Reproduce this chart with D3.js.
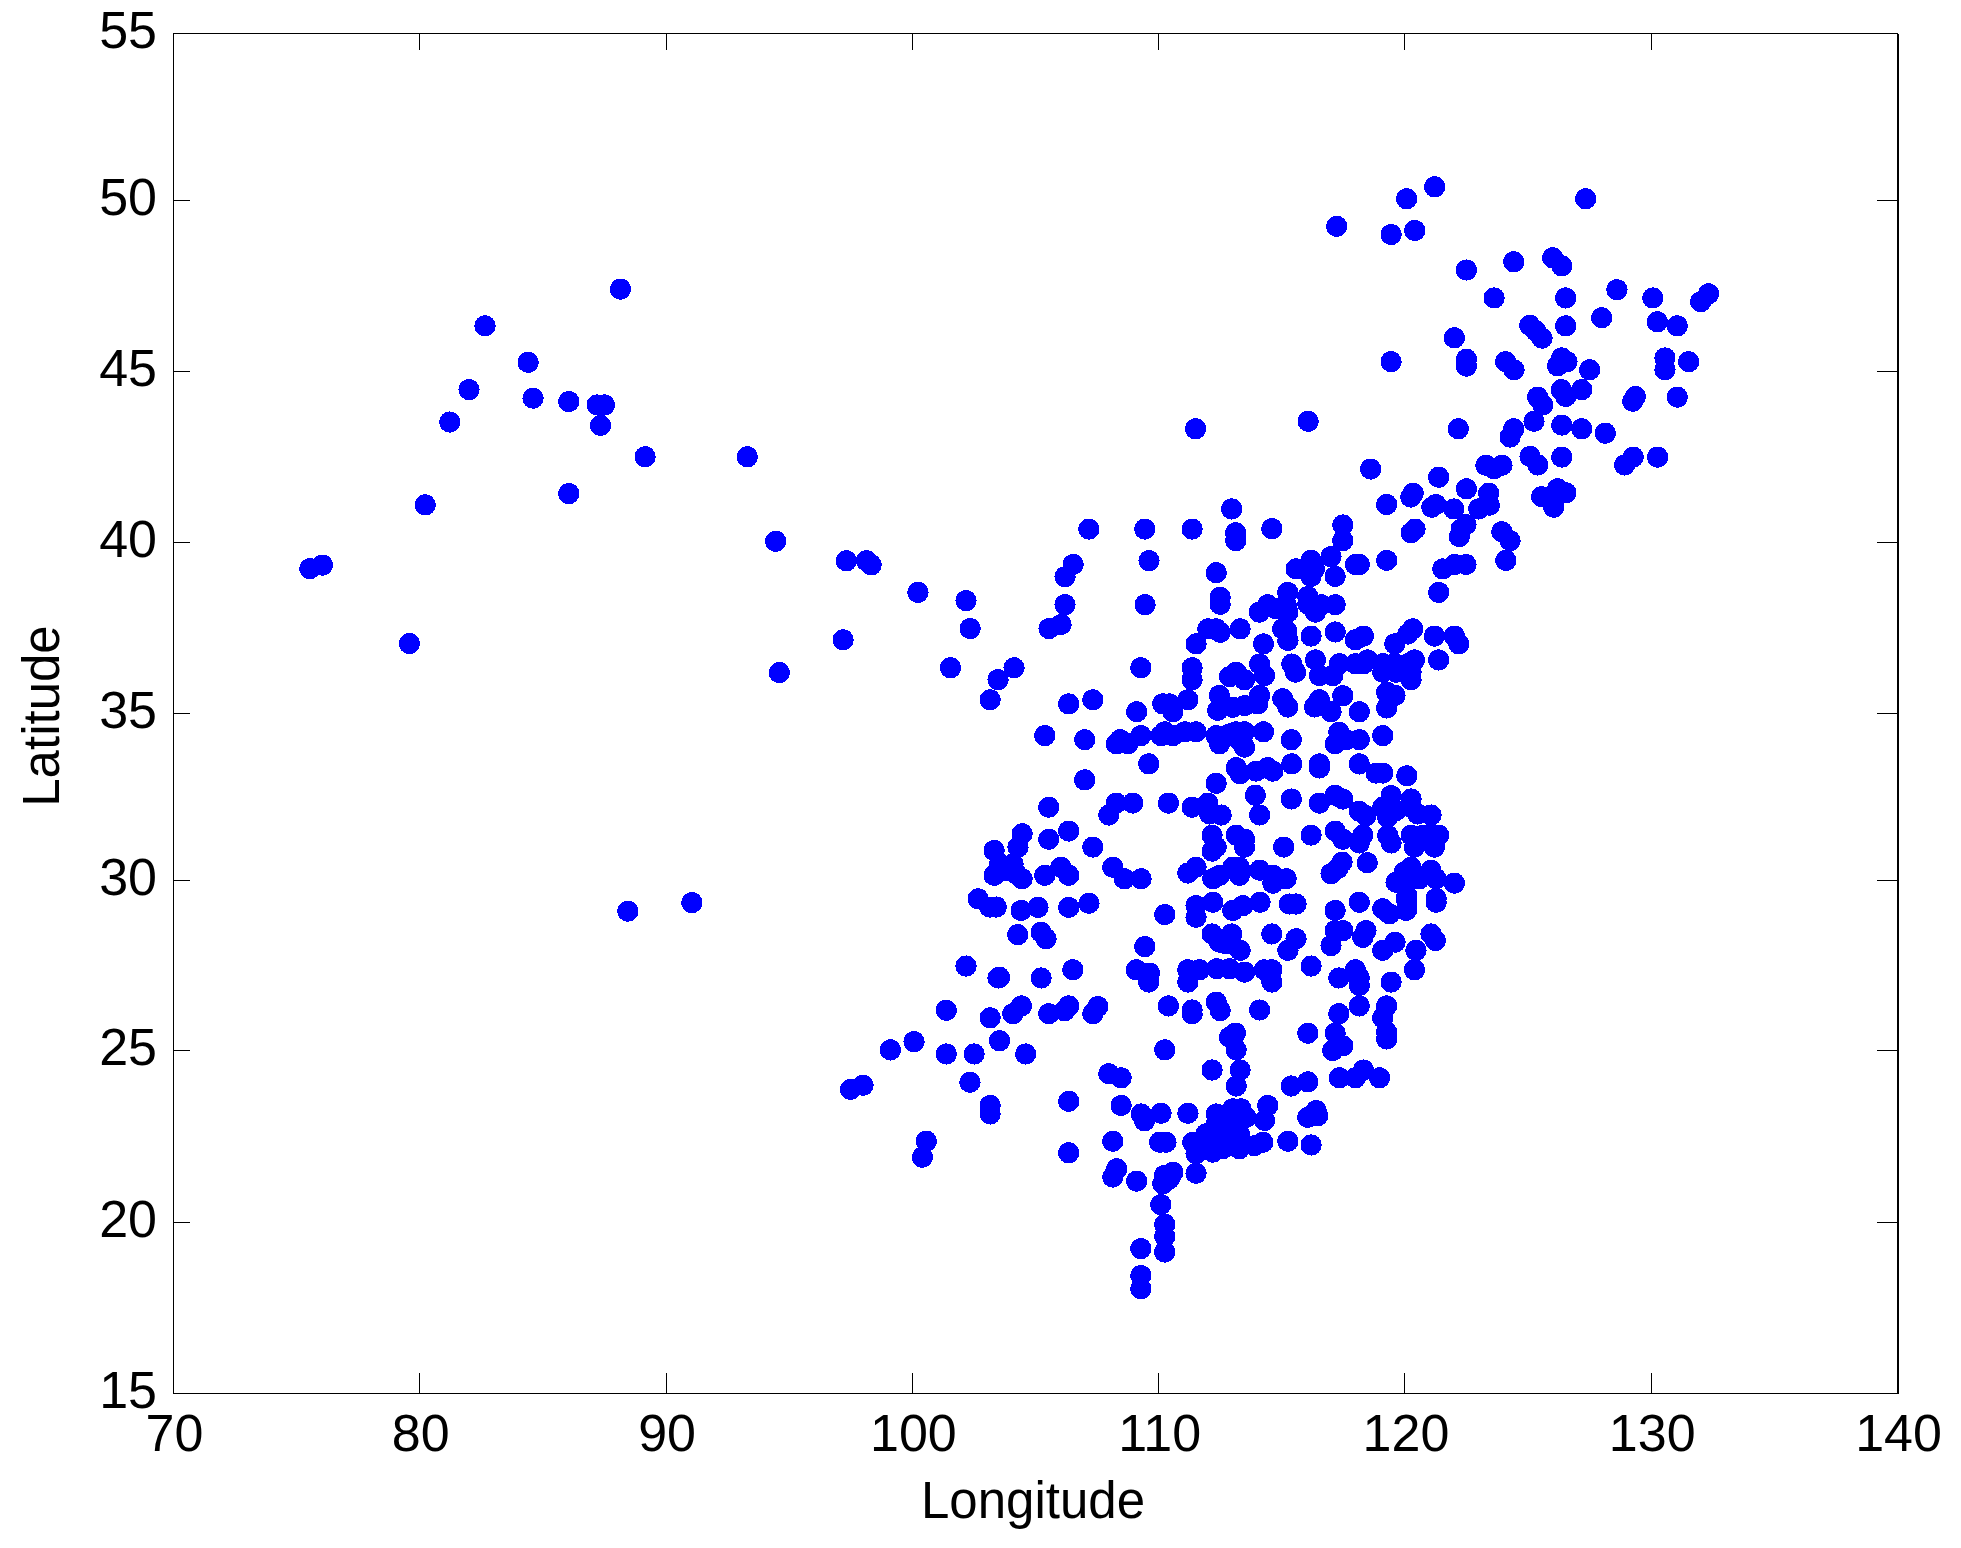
<!DOCTYPE html>
<head>
  <meta charset="utf-8">
  <style>
    body { margin:0; background:#fff; }
    svg { display:block; }
    text { font-family:"Liberation Sans", Arial, sans-serif; font-size:51px; fill:#000; }
    .axis path, .axis line { stroke:#000; shape-rendering:crispEdges; }
    .dot { fill:#0000ff; shape-rendering:crispEdges; }
  </style>
</head>

<body>

  <script src="https://d3js.org/d3.v7.min.js"></script>

  <script>

    // DATA, lon/lat pairs, split by area
    const west = [
      [75.54,39.2],[76.05,39.3],[79.58,37.0],[80.22,41.07],[81.22,43.5],[82.0,44.45],[82.65,46.32],
      [84.4,45.25],[84.6,44.2],[86.05,44.1],[86.05,41.4],[87.2,44.0],[87.5,44.0],[87.34,43.4],
      [88.15,47.4],[89.15,42.48],[88.45,29.15],[91.05,29.4],[93.3,42.48],[94.45,40.0],[94.6,36.15]
    ];
    const northwest = [
      [97.32,39.43],[98.14,39.43],[98.33,39.31],[100.23,38.5],[102.18,38.26],[102.35,37.44],
      [97.19,37.11],[101.55,36.29],[104.13,36.29],[103.48,35.94],[103.16,35.35],
      [106.53,39.32],[106.2,38.96],[106.2,38.14],[106.04,37.56],[105.55,37.44],
      [109.61,39.43],[109.45,38.14]
    ];
    const southwest = [
      [104.46,31.42],[104.29,31.03],[103.32,30.93],[103.55,30.54],[104.09,30.54],[103.32,30.2],
      [103.82,30.34],[104.46,30.1],[104.23,30.24],[102.67,29.51],[103.41,29.27],[103.14,29.27],
      [102.18,27.54],[103.48,27.19],[101.38,26.24],[103.16,26.02],[100.07,25.32],[99.11,25.08],
      [101.38,24.96],[102.51,24.96],[98.0,24.04],[97.49,23.92],[102.34,24.13],[103.16,23.45],
      [103.16,23.2],[100.57,22.4],[100.41,21.93]
    ];
    const northeast = [
      [121.21,50.4],[120.07,50.05],[127.34,50.05],[117.23,49.24],[119.44,49.0],[120.4,49.12],
      [122.5,47.96],[124.42,48.2],[126.0,48.32],[126.37,48.08],[128.61,47.38],[123.62,47.14],
      [126.53,47.14],[130.07,47.14],[132.33,47.26],[132.01,47.03],[127.99,46.56],[126.53,46.32],
      [130.25,46.44],[131.06,46.32],[125.07,46.34],[125.32,46.17],[125.57,45.96],[122.01,45.97],
      [119.44,45.27],[122.5,45.34],[122.5,45.14],[124.09,45.27],[124.43,45.03],[126.37,45.38],
      [126.58,45.27],[126.2,45.15],[127.5,45.03],[130.56,45.38],[130.56,45.03],[131.52,45.27],
      [126.35,44.45],[126.53,44.25],[127.18,44.45],[125.39,44.23],[125.6,44.0],[125.24,43.52],
      [129.36,44.25],[129.25,44.11],[131.06,44.23],[122.17,43.3],[124.42,43.3],[124.27,43.06],
      [126.37,43.41],[127.18,43.3],[128.14,43.17],[125.08,42.49],[125.4,42.24],[126.37,42.47],
      [123.29,42.23],[123.62,42.13],[123.94,42.23],[129.27,42.47],[128.92,42.24],[130.26,42.47],
      [118.61,42.12],[121.37,41.88],[120.34,41.41],[120.24,41.3],[119.26,41.08],[122.5,41.54],
      [126.2,41.54],[126.54,41.42],[125.55,41.31],[126.04,41.0],[116.07,43.52],[111.5,43.3],
      [121.09,41.0],[121.26,41.08],[121.99,40.95],[123.4,41.41],[123.43,41.06],[123.0,40.95],
      [123.94,40.28],[124.27,40.02],[124.1,39.44]
    ];
    const north = [
      [107.17,40.36],[109.44,40.36],[111.36,40.36],[112.97,40.95],[113.13,40.25],[113.13,40.02],
      [114.6,40.37],[117.48,40.48],[117.48,40.02],[117.0,39.55],[116.19,39.44],[115.58,39.19],
      [116.33,39.19],[116.19,38.97],[117.17,38.97],[117.99,39.32],[118.15,39.32],[119.26,39.44],
      [120.41,40.36],[120.25,40.25],[122.48,40.49],[122.28,40.36],[122.21,40.14],[121.54,39.19],
      [122.01,39.32],[122.48,39.32],[121.37,38.5],[112.34,39.08],[112.5,38.36],[112.5,38.15],
      [115.24,38.5],[114.43,38.14],[114.09,37.92],[114.77,38.02],[115.18,38.14],[115.25,37.92],
      [116.06,38.38],[116.06,38.16],[116.6,38.14],[116.37,37.92],[117.17,38.14],[115.2,37.38],
      [115.25,37.09],[115.04,37.43],[116.19,37.22],[117.17,37.34],[117.99,37.11],[118.32,37.22],
      [119.59,36.99],[120.32,37.43],[120.12,37.28],[121.2,37.22],[122.01,37.22],[122.19,36.99],
      [121.37,36.52],[112.0,37.43],[112.34,37.43],[112.5,37.33],[113.31,37.43],[111.52,36.99],
      [114.26,36.99],[109.28,36.29],[111.36,36.29],[111.36,35.94],[113.15,36.16],[113.49,35.94],
      [114.1,36.4],[114.3,36.06],[112.88,36.03],[115.41,36.4],[115.56,36.16],[116.37,36.52]
    ];
    const central = [
      [116.53,36.06],[117.07,36.06],[117.34,36.41],[117.99,36.41],[118.32,36.41],[118.49,36.52],
      [119.1,36.41],[119.1,36.16],[119.57,36.41],[119.64,36.16],[120.12,36.41],[120.39,36.52],
      [120.25,36.16],[120.25,35.94],[119.26,35.57],[119.6,35.48],[119.26,35.11],[112.47,35.48],
      [111.19,35.35],[110.17,35.23],[110.44,35.23],[110.58,35.0],[109.11,35.0],[106.35,35.23],
      [107.33,35.35],[112.4,35.04],[113.01,35.13],[113.49,35.18],[114.03,35.23],[114.1,35.48],
      [115.04,35.38],[115.25,35.14],[116.53,35.35],[116.33,35.14],[117.0,35.0],[117.48,35.47],
      [118.15,35.0],[105.38,34.3],[107.0,34.18],[108.28,34.06],[108.44,34.18],[108.75,34.06],
      [109.28,34.3],[110.1,34.3],[110.25,34.41],[110.58,34.3],[111.06,34.41],[111.52,34.41],
      [112.34,34.3],[112.47,34.06],[113.15,34.41],[113.49,34.41],[113.49,33.96],[112.88,34.35],
      [113.28,34.16],[114.26,34.41],[115.39,34.18],[117.32,34.4],[117.17,34.06],[117.61,34.18],
      [118.15,34.18],[119.1,34.3],[109.6,33.47],[113.15,33.36],[113.31,33.18],[113.96,33.26],
      [114.43,33.36],[114.64,33.26],[115.41,33.47],[116.53,33.47],[116.53,33.35],[118.15,33.47],
      [118.83,33.2],[119.1,33.2],[120.08,33.12],[112.34,32.9],[107.0,33.0],[113.93,32.55],
      [114.1,31.97],[115.39,32.44],[105.54,32.2],[108.28,32.32],[108.95,32.32],[107.98,31.97],
      [110.4,32.32],[111.36,32.2],[112.0,32.32],[112.07,32.0],[112.54,31.97],[116.53,32.32],
      [117.17,32.55],[117.48,32.44],[118.15,32.08],[118.42,31.95],[119.44,32.54],[120.25,32.44],
      [119.1,32.2],[119.64,32.1],[120.25,32.2],[120.52,32.0],[121.06,31.97],[119.3,31.9]
    ];
    const east = [
      [116.19,31.38],[117.17,31.5],[117.48,31.26],[118.15,31.15],[118.29,31.38],[119.3,31.37],
      [119.44,31.15],[120.25,31.38],[120.39,31.03],[121.06,31.38],[121.37,31.38],[121.2,31.03],
      [120.73,31.38],[112.17,31.38],[112.17,30.91],[112.34,31.03],[113.15,31.38],[113.49,31.26],
      [113.49,31.03],[115.08,31.03],[105.54,31.26],[106.35,31.5],[107.33,31.03],[108.14,30.44],
      [108.61,30.1],[109.29,30.1],[105.38,30.2],[106.03,30.44],[106.35,30.2],[111.19,30.27],
      [111.52,30.44],[112.2,30.1],[112.47,30.2],[113.28,30.44],[113.01,30.44],[113.28,30.2],
      [114.1,30.35],[114.64,30.2],[114.64,29.97],[115.18,30.1],[117.45,30.59],[117.0,30.25],
      [117.27,30.4],[118.47,30.57],[120.25,30.44],[119.64,30.0],[119.98,30.3],[121.06,30.35],
      [120.59,30.1],[120.12,30.0],[121.27,30.1],[122.01,29.97],[120.08,29.6],[120.08,29.2],
      [121.27,29.52]
    ];
    const south = [
      [104.42,29.17],[105.1,29.26],[106.35,29.26],[107.17,29.38],[111.52,28.97],[111.52,29.31],
      [112.2,29.41],[110.25,29.05],[113.01,29.17],[113.42,29.31],[114.12,29.41],[115.31,29.36],
      [115.58,29.36],[117.17,29.17],[118.15,29.41],[119.1,29.22],[119.37,29.07],[120.05,29.17],
      [120.08,29.46],[121.27,29.41],[104.28,28.46],[105.23,28.53],[105.43,28.34],[109.44,28.11],
      [112.17,28.48],[112.97,28.48],[112.74,28.19],[113.31,28.0],[112.47,28.24],[114.6,28.48],
      [115.58,28.34],[115.25,28.0],[117.17,28.58],[117.48,28.58],[117.0,28.14],[118.42,28.58],
      [118.29,28.38],[119.6,28.24],[119.1,28.0],[120.45,28.0],[121.06,28.48],[121.24,28.29],
      [105.23,27.19],[106.52,27.43],[103.54,27.21],[109.09,27.43],[109.63,27.33],[109.6,27.07],
      [111.19,27.43],[111.66,27.43],[111.19,27.07],[112.36,27.46],[113.49,27.36],[114.3,27.43],
      [114.6,27.43],[114.6,27.07],[112.88,27.46],[116.19,27.54],[117.32,27.19],[117.99,27.43],
      [118.15,27.19],[118.15,26.97],[119.44,27.07],[120.39,27.43],[118.15,26.37],[117.32,26.14],
      [119.26,26.37],[119.1,26.02],[119.26,25.6],[119.26,25.4],[104.08,26.14],[104.43,26.37],
      [105.54,26.14],[106.35,26.37],[106.18,26.23],[107.33,26.14],[107.53,26.35],[110.4,26.37],
      [111.36,26.25],[111.36,26.14],[112.34,26.48],[112.5,26.23],[114.1,26.25],[103.54,25.35],
      [104.6,24.96],[110.25,25.08],[113.12,25.57],[112.88,25.45],[113.15,25.08],[116.06,25.57],
      [117.17,25.57],[117.48,25.2],[117.07,25.06],[117.27,25.26],[112.17,24.49],[113.31,24.49],
      [113.15,24.02],[107.98,24.38],[108.48,24.26],[115.38,24.02],[116.06,24.14],[117.34,24.26],
      [117.99,24.26],[118.32,24.49],[118.97,24.26]
    ];
    const coast = [
      [106.35,23.57],[108.48,23.45],[109.29,23.2],[110.1,23.22],[109.43,23.0],[111.19,23.22],
      [112.34,23.2],[113.01,23.35],[113.35,23.35],[113.55,23.1],[112.34,22.91],[112.88,23.1],
      [111.93,22.62],[112.34,22.62],[113.01,22.71],[113.28,22.62],[111.39,22.37],[111.79,22.42],
      [112.2,22.32],[112.74,22.37],[113.28,22.18],[111.52,22.03],[112.2,22.08],[112.6,22.18],
      [114.43,23.45],[114.3,23.01],[114.23,22.37],[113.89,22.27],[115.25,22.4],[116.19,22.29],
      [116.06,23.1],[116.4,23.3],[116.46,23.15],[108.14,22.4],[106.35,22.06],[110.04,22.37],
      [110.3,22.37],[111.52,21.46],[108.3,21.59],[108.14,21.35],[109.11,21.23],[110.58,21.49],
      [110.24,21.4],[110.17,21.15],[110.44,21.3],[110.09,20.54],[110.25,19.96],[110.25,19.61],
      [110.25,19.15],[109.28,19.25],[109.28,18.46],[109.28,18.07]
    ];
    const points = [].concat(west, northwest, southwest, northeast, north, central, east, south, coast);

    const lonTicks = [70, 80, 90, 100, 110, 120, 130, 140];
    const latTicks = [15, 20, 25, 30, 35, 40, 45, 50, 55];

    // SETTING THE DIMENSIONS
    const width = 1961,
          height = 1548;

    const x = d3.scaleLinear().domain([70, 140]).range([173, 1897]);
    const y = d3.scaleLinear().domain([15, 50]).range([1393, 200]);
    // the ticks in the reference are not quite evenly spaced
    const yAxisScale = d3.scaleLinear().domain(latTicks).range([1393, 1222, 1050, 880, 713, 542, 371, 200, 33]);

    // SVG
    const svg = d3.select("body").append("svg")
      .attr("width", width)
      .attr("height", height);

    // POINTS
    svg.selectAll("circle.dot")
      .data(points)
      .enter().append("circle")
        .classed("dot", true)
        .attr("cx", d => x(d[0]) + 0.5)
        .attr("cy", d => y(d[1]) + 0.5)
        .attr("r", 10.6);

    // AXES
    svg.append("g").attr("class", "axis")
      .attr("transform", "translate(0,1393)")
      .call(d3.axisBottom(x).tickValues(lonTicks).tickSizeInner(-20).tickSizeOuter(0))
      .call(g => g.selectAll("text").attr("x", 1).attr("y", 58).attr("dy", 0).style("font-size", "52px"));

    svg.append("g").attr("class", "axis")
      .attr("transform", "translate(0,33)")
      .call(d3.axisTop(x).tickValues(lonTicks).tickSizeInner(-17).tickSizeOuter(0).tickFormat(""));

    svg.append("g").attr("class", "axis")
      .attr("transform", "translate(173,0)")
      .call(d3.axisLeft(yAxisScale).tickValues(latTicks).tickSizeInner(-17).tickSizeOuter(0))
      .call(g => g.selectAll("text").attr("x", -16).attr("dy", 14).style("font-size", "52px"));

    svg.append("g").attr("class", "axis")
      .attr("transform", "translate(1897,0)")
      .call(d3.axisRight(yAxisScale).tickValues(latTicks).tickSizeInner(-20).tickSizeOuter(0).tickFormat(""))
      .call(g => g.select("path").attr("stroke-width", 2));

    // AXIS TITLES
    svg.append("text")
      .attr("x", 1033)
      .attr("y", 1518)
      .attr("text-anchor", "middle")
      .text("Longitude");

    svg.append("text")
      .attr("transform", "translate(59,716) rotate(-90)")
      .attr("text-anchor", "middle")
      .text("Latitude");

  </script>
</body>
